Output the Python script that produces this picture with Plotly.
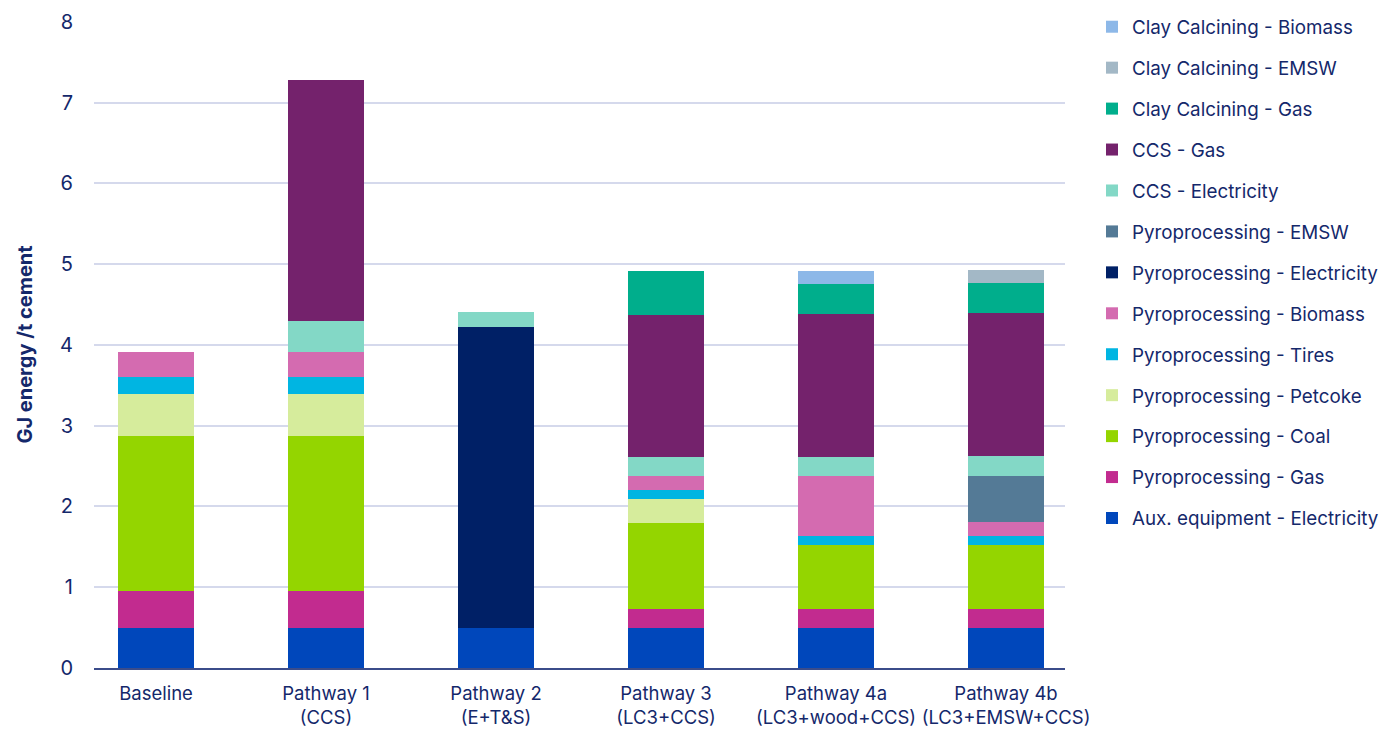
import plotly.graph_objects as go

categories = ["Baseline", "Pathway 1<br>(CCS)", "Pathway 2<br>(E+T&S)", "Pathway 3<br>(LC3+CCS)",
              "Pathway 4a<br>(LC3+wood+CCS)", "Pathway 4b<br>(LC3+EMSW+CCS)"]

# GJ energy per t cement, bottom of the stack first
aux_electricity = [0.49, 0.49, 0.49, 0.49, 0.49, 0.49]
pyro_gas = [0.46, 0.46, 0, 0.24, 0.24, 0.24]
pyro_coal = [1.92, 1.92, 0, 1.07, 0.79, 0.79]
pyro_petcoke = [0.52, 0.52, 0, 0.29, 0, 0]
pyro_tires = [0.21, 0.21, 0, 0.11, 0.12, 0.12]
pyro_biomass = [0.31, 0.31, 0, 0.18, 0.74, 0.17]
pyro_electricity = [0, 0, 3.73, 0, 0, 0]
pyro_emsw = [0, 0, 0, 0, 0, 0.57]
ccs_electricity = [0, 0.39, 0.19, 0.23, 0.23, 0.24]
ccs_gas = [0, 2.98, 0, 1.76, 1.77, 1.77]
clay_gas = [0, 0, 0, 0.55, 0.38, 0.38]
clay_emsw = [0, 0, 0, 0, 0, 0.16]
clay_biomass = [0, 0, 0, 0, 0.16, 0]

series = [
    ("Aux. equipment - Electricity", aux_electricity, "#0047BB"),
    ("Pyroprocessing - Gas", pyro_gas, "#C22B8F"),
    ("Pyroprocessing - Coal", pyro_coal, "#94D500"),
    ("Pyroprocessing - Petcoke", pyro_petcoke, "#D6EC9C"),
    ("Pyroprocessing - Tires", pyro_tires, "#00B5E2"),
    ("Pyroprocessing - Biomass", pyro_biomass, "#D46BB0"),
    ("Pyroprocessing - Electricity", pyro_electricity, "#002066"),
    ("Pyroprocessing - EMSW", pyro_emsw, "#547A96"),
    ("CCS - Electricity", ccs_electricity, "#83D8C6"),
    ("CCS - Gas", ccs_gas, "#74226C"),
    ("Clay Calcining - Gas", clay_gas, "#00AE8C"),
    ("Clay Calcining - EMSW", clay_emsw, "#A3B8C6"),
    ("Clay Calcining - Biomass", clay_biomass, "#8DB8E8"),
]

navy = "#14286B"

fig = go.Figure()
for i, (name, vals, col) in enumerate(series):
    # legend lists the top of the stack first
    fig.add_trace(go.Bar(x=categories, y=vals, name=name, legendgroup=name,
                         legendrank=1000 - i,
                         marker=dict(color=col, line=dict(width=0)), width=0.45))

fig.update_layout(
    barmode="stack",
    width=1400, height=733,
    paper_bgcolor="white", plot_bgcolor="white",
    font=dict(family="Inter, Lato, sans-serif", color=navy),
    margin=dict(l=86, r=343, t=13, b=73, autoexpand=False),
    legend=dict(x=1084 / 1400, xref="container", y=1, yref="container",
                yanchor="top", xanchor="left", traceorder="grouped",
                tracegroupgap=13.5, maxheight=730, font=dict(size=18.8, color=navy)),
)
fig.update_xaxes(range=[-0.365, 5.347], showgrid=False, showline=True, linecolor="#3B4C8A",
                 linewidth=2, tickfont=dict(size=18.5, color=navy), ticks="", ticklabelstandoff=8,
                 tickangle=0, automargin=False)
fig.update_yaxes(range=[0, 8.01], dtick=1, gridcolor="#D5D9EC", gridwidth=1.5, zeroline=False,
                 tickfont=dict(size=20, color=navy), ticklabelstandoff=20, automargin=False,
                 ticklabeloverflow="allow",
                 title=dict(text="<b>GJ energy /t cement</b>", font=dict(size=20, color=navy), standoff=22))

fig.write_html("out.html")
